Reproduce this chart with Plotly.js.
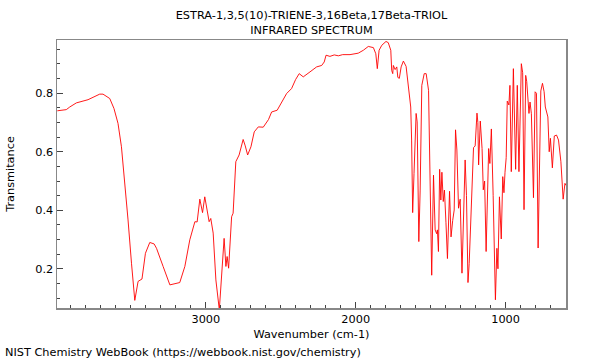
<!DOCTYPE html>
<html>
<head>
<meta charset="utf-8">
<script src="https://cdn.plot.ly/plotly-3.0.1.min.js"></script>
<style>html,body{margin:0;padding:0;background:#fff;}#chart{width:600px;height:360px;}</style>
</head>
<body>
<div id="chart"></div>
<script>
const chartTitle = 'ESTRA-1,3,5(10)-TRIENE-3,16Beta,17Beta-TRIOL<br>INFRARED SPECTRUM';
const xLabel = 'Wavenumber (cm-1)';
const yLabel = 'Transmitance';
const footer = 'NIST Chemistry WebBook (https://webbook.nist.gov/chemistry)';

const wavenumber = [
  3991,3931,3908,3864,3786,3708,3686,3641,3613,3586,3563,3541,3519,3496,3474,3452,3426,3403,3374,3345,
  3329,3285,3240,3174,3140,3107,3073,3058,3040,3022,3007,2978,2967,2951,2933,2910,2891,2878,2866,2858,
  2848,2828,2818,2800,2778,2751,2737,2721,2699,2677,2650,2617,2582,2561,2524,2494,2461,2428,2401,2377,
  2350,2305,2261,2227,2210,2198,2172,2143,2116,2087,2038,1983,1949,1916,1882,1866,1856,1844,1826,1798,
  1783,1766,1760,1753,1749,1737,1726,1719,1709,1697,1682,1664,1649,1633,1627,1620,1611,1597,1590,1579,
  1570,1559,1543,1530,1514,1503,1493,1481,1470,1460,1455,1448,1440,1432,1425,1416,1408,1398,1388,1374,
  1364,1353,1343,1334,1325,1314,1303,1291,1283,1270,1261,1251,1243,1226,1214,1203,1191,1185,1180,1169,
  1157,1149,1140,1130,1122,1113,1105,1095,1083,1068,1058,1051,1041,1029,1019,1011,1004,996,989,978,
  971,962,948,933,922,911,895,886,877,866,859,850,844,837,828,814,803,794,783,765,
  754,743,735,718,709,701,688,675,660,647,631,616,604,597
];
const transmittance = [
  0.740,0.744,0.753,0.767,0.778,0.797,0.797,0.782,0.748,0.697,0.617,0.503,0.367,0.219,0.092,0.157,0.165,0.253,0.290,0.285,
  0.270,0.208,0.145,0.153,0.208,0.299,0.361,0.360,0.438,0.392,0.446,0.361,0.372,0.322,0.162,0.060,0.208,0.304,0.208,0.242,
  0.202,0.378,0.390,0.566,0.589,0.642,0.620,0.589,0.617,0.668,0.685,0.684,0.710,0.736,0.742,0.770,0.799,0.816,0.847,0.867,
  0.856,0.873,0.890,0.895,0.907,0.930,0.926,0.931,0.928,0.932,0.932,0.937,0.947,0.960,0.956,0.935,0.884,0.947,0.964,0.977,
  0.973,0.947,0.878,0.867,0.895,0.881,0.890,0.854,0.851,0.890,0.910,0.892,0.833,0.753,0.640,0.392,0.526,0.731,0.702,0.293,
  0.469,0.827,0.867,0.867,0.810,0.526,0.178,0.520,0.333,0.320,0.333,0.259,0.540,0.435,0.530,0.430,0.469,0.359,0.235,0.465,
  0.309,0.365,0.401,0.675,0.606,0.407,0.438,0.185,0.350,0.572,0.450,0.153,0.218,0.452,0.614,0.620,0.732,0.700,0.555,0.705,
  0.611,0.470,0.500,0.259,0.450,0.611,0.560,0.678,0.450,0.094,0.270,0.200,0.446,0.302,0.515,0.460,0.530,0.580,0.773,0.760,
  0.827,0.532,0.884,0.540,0.827,0.532,0.901,0.870,0.402,0.861,0.840,0.770,0.731,0.770,0.730,0.443,0.805,0.800,0.271,0.808,
  0.834,0.805,0.753,0.719,0.600,0.646,0.545,0.654,0.657,0.640,0.566,0.438,0.492,0.485
];

const xTickVals = [3000, 2000, 1000];
const xTickText = ['3000', '2000', '1000'];
const yTickVals = [0.2, 0.4, 0.6, 0.8];
const yTickText = ['0.2', '0.4', '0.6', '0.8'];

const font = 'DejaVu Sans, sans-serif';
const fs = 11.3;

const trace = {
  x: wavenumber,
  y: transmittance,
  type: 'scatter',
  mode: 'lines',
  line: {color: 'rgb(255,0,0)', width: 0.9},
  hoverinfo: 'skip'
};

const plotH = 360 - 40 - 52;
const plotW = 600 - 57 - 34;

const layout = {
  width: 600, height: 360,
  margin: {l: 57, r: 34, t: 40, b: 52},
  paper_bgcolor: '#fff', plot_bgcolor: '#fff',
  showlegend: false,
  font: {family: font, size: fs, color: '#000'},
  title: {
    text: chartTitle,
    font: {family: font, size: fs, color: '#000'},
    xref: 'paper', x: 0.5, xanchor: 'center',
    yref: 'container', y: 1 - 19 / 360, yanchor: 'middle'
  },
  xaxis: {
    range: [3993, 597],
    showgrid: false, zeroline: false,
    showline: true, mirror: true, linecolor: '#888', linewidth: 1.5,
    ticks: 'inside', ticklen: 6, tickcolor: '#444', tickwidth: 1,
    tickmode: 'array', tickvals: xTickVals, ticktext: xTickText,
    tickfont: {family: font, size: fs, color: '#000'},
    minor: {dtick: 100, tick0: 0, ticks: 'inside', ticklen: 3, tickcolor: '#444', showgrid: false},
    title: {text: xLabel, font: {family: font, size: fs, color: '#000'}, standoff: 5}
  },
  yaxis: {
    range: [0.066, 0.982],
    showgrid: false, zeroline: false,
    showline: true, mirror: true, linecolor: '#888', linewidth: 1.5,
    ticks: 'inside', ticklen: 6, tickcolor: '#444', tickwidth: 1,
    tickmode: 'array', tickvals: yTickVals, ticktext: yTickText,
    tickfont: {family: font, size: fs, color: '#000'},
    minor: {dtick: 0.05, tick0: 0, ticks: 'inside', ticklen: 3, tickcolor: '#444', showgrid: false},
    title: {text: yLabel, font: {family: font, size: fs, color: '#000'}, standoff: 18}
  },
  annotations: [{
    text: footer, xref: 'paper', yref: 'paper',
    x: -54 / plotW, y: -(352 - 308) / plotH,
    xanchor: 'left', yanchor: 'middle', showarrow: false,
    font: {family: font, size: fs, color: '#000'}
  }]
};

Plotly.newPlot('chart', [trace], layout, {displayModeBar: false, staticPlot: true});
</script>
</body>
</html>
